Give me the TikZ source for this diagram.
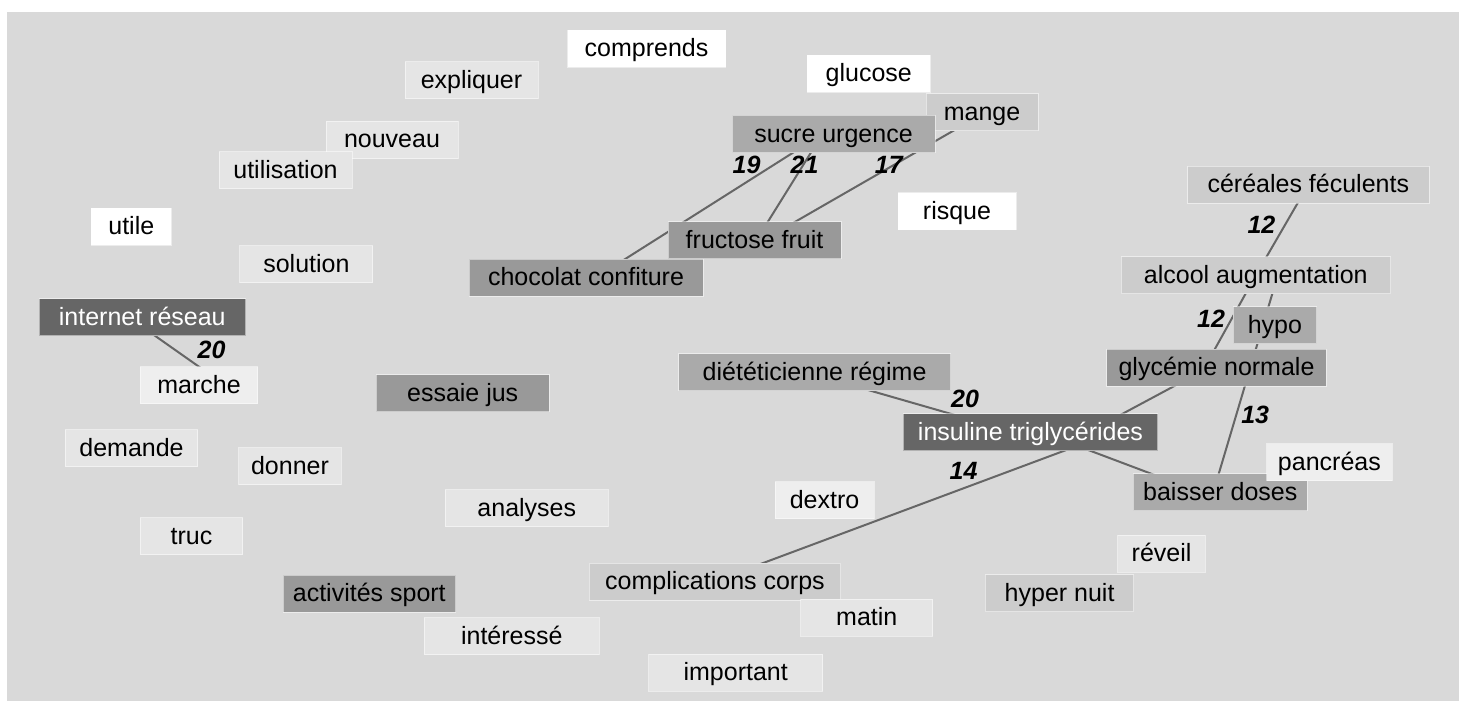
\documentclass[tikz,border=0pt]{standalone}
\usepackage{fontspec}
\setmainfont{Liberation Sans}
\usepackage{tikz}
\usepackage{xcolor}
\usetikzlibrary{calc}

\definecolor{canvas}{RGB}{217,217,217}
\definecolor{wlight}{RGB}{229,229,229}
\definecolor{wpale}{RGB}{238,238,238}
\definecolor{wmid}{RGB}{204,204,204}
\definecolor{wgrey}{RGB}{170,170,170}
\definecolor{wdark}{RGB}{153,153,153}
\definecolor{wdeep}{RGB}{102,102,102}
\definecolor{linkgray}{RGB}{102,102,102}

\pgfdeclarelayer{background}
\pgfsetlayers{background,main}

\begin{document}
\begin{tikzpicture}[x=0.5pt, y=-0.5pt]
% tikz settings
\tikzstyle{word} = [rectangle, draw=white, draw opacity=0.5, line width=0.5pt,
    inner sep=0pt, minimum height=18.5pt, text height=10pt, text depth=2pt,
    font=\fontsize{12.5}{15}\selectfont]
\tikzstyle{weight} = [inner sep=0pt, font=\fontsize{12.5}{15}\selectfont\bfseries\itshape]
\tikzstyle{link} = [draw, line width=1pt, color=linkgray]

\useasboundingbox (0,0) rectangle (1466,701);

% the tikz picture
\node [word, fill=white, minimum width=79pt] (comprends) at (646.5,48.8) {comprends};
\node [word, fill=wlight, minimum width=66.5pt] (expliquer) at (471.5,80.5) {expliquer};
\node [word, fill=white, minimum width=61.5pt] (glucose) at (868.8,73.7) {glucose};
\node [word, fill=wlight, minimum width=66pt] (nouveau) at (392,140) {nouveau};
\node [word, fill=wmid, minimum width=56pt] (mange) at (982,112.5) {mange};
\node [word, fill=wgrey, minimum width=101.5pt] (sucre) at (833.5,134) {sucre urgence};
\node [word, fill=wlight, minimum width=66.5pt] (utilisation) at (285.5,170) {utilisation};
\node [word, fill=wmid, minimum width=120.8pt] (cereales) at (1308.3,184.7) {céréales féculents};
\node [word, fill=white, minimum width=59pt] (risque) at (957,211) {risque};
\node [word, fill=white, minimum width=40pt] (utile) at (131.3,226.5) {utile};
\node [word, fill=wdark, minimum width=86.5pt] (fructose) at (754.5,240) {fructose fruit};
\node [word, fill=wlight, minimum width=66.5pt] (solution) at (306.4,264.2) {solution};
\node [word, fill=wdark, minimum width=117pt] (chocolat) at (586,277.5) {chocolat confiture};
\node [word, fill=wmid, minimum width=134.8pt] (alcool) at (1255.8,275.3) {alcool augmentation};
\node [word, fill=wdeep, text=white, minimum width=103.3pt] (internet) at (142.3,317) {internet réseau};
\node [word, fill=wgrey, minimum width=41.9pt] (hypo) at (1274.9,325) {hypo};
\node [word, fill=wpale, minimum width=58.8pt] (marche) at (199,385) {marche};
\node [word, fill=wgrey, minimum width=136pt] (dieteticienne) at (814.6,372.3) {diététicienne régime};
\node [word, fill=wdark, minimum width=109.7pt] (glycemie) at (1216.5,367.7) {glycémie normale};
\node [word, fill=wdark, minimum width=86.7pt] (essaie) at (462.7,393) {essaie jus};
\node [word, fill=wdeep, text=white, minimum width=127.4pt] (insuline) at (1030.5,432) {insuline triglycérides};
\node [word, fill=wlight, minimum width=66.4pt] (demande) at (131.5,448) {demande};
\node [word, fill=wlight, minimum width=51.3pt] (donner) at (290,466.2) {donner};
\node [word, fill=wgrey, minimum width=87pt] (baisser) at (1220.3,492) {baisser doses};
\node [word, fill=wpale, minimum width=62.8pt] (pancreas) at (1329.4,462.3) {pancréas};
\node [word, fill=wlight, minimum width=81.5pt] (analyses) at (526.8,508.3) {analyses};
\node [word, fill=wpale, minimum width=49.5pt] (dextro) at (824.5,500) {dextro};
\node [word, fill=wlight, minimum width=51.3pt] (truc) at (191.5,536.3) {truc};
\node [word, fill=wlight, minimum width=43.8pt] (reveil) at (1161.6,553.8) {réveil};
\node [word, fill=wmid, minimum width=125.7pt] (complications) at (715,581.7) {complications corps};
\node [word, fill=wdark, minimum width=86.3pt] (activites) at (369.3,593.7) {activités sport};
\node [word, fill=wmid, minimum width=74.3pt] (hyper) at (1059.6,593) {hyper nuit};
\node [word, fill=wlight, minimum width=65.9pt] (matin) at (866.8,617.8) {matin};
\node [word, fill=wlight, minimum width=87.4pt] (interesse) at (511.8,636) {intéressé};
\node [word, fill=wlight, minimum width=87pt] (important) at (735.7,672.5) {important};

% weights
\node [weight] (w19) at (746.5,165) {19};
\node [weight] (w21) at (804.6,165) {21};
\node [weight] (w17) at (888.8,165) {17};
\node [weight] (w12a) at (1261.4,225) {12};
\node [weight] (w12b) at (1211,318.3) {12};
\node [weight] (w20a) at (211.6,350) {20};
\node [weight] (w20b) at (965.1,399.3) {20};
\node [weight] (w13) at (1255.2,415) {13};
\node [weight] (w14) at (963.5,470.7) {14};

\begin{pgfonlayer}{background}
\fill [canvas] (7,12) rectangle (1459,701);
\draw [link] ([xshift=-5.5pt]sucre.center) -- ([xshift=5pt]chocolat.center);
\draw [link] ([xshift=-5.5pt]sucre.center) -- ([xshift=1pt]fructose.center);
\draw [link] ([xshift=1.5pt]mange.center) -- ([xshift=4.5pt]fructose.center);
\draw [link] (cereales.center) -- (alcool.center);
\draw [link] (alcool.center) -- ([xshift=-6pt]glycemie.center);
\draw [link] ([xshift=11pt]alcool.center) -- ([xshift=-3.5pt]baisser.center);
\draw [link] ([xshift=-4pt]glycemie.center) -- ([xshift=29pt]insuline.center);
\draw [link] ([xshift=-4pt]dieteticienne.center) -- ([xshift=-8.3pt]insuline.center);
\draw [link] ([xshift=5pt]insuline.center) -- ([xshift=-10.3pt]baisser.center);
\draw [link] ([xshift=42pt]insuline.center) -- ([xshift=-1pt]complications.center);
\draw [link] ([xshift=-7pt]internet.center) -- ([xshift=13pt]marche.center);
\end{pgfonlayer}
\end{tikzpicture}
\end{document}
